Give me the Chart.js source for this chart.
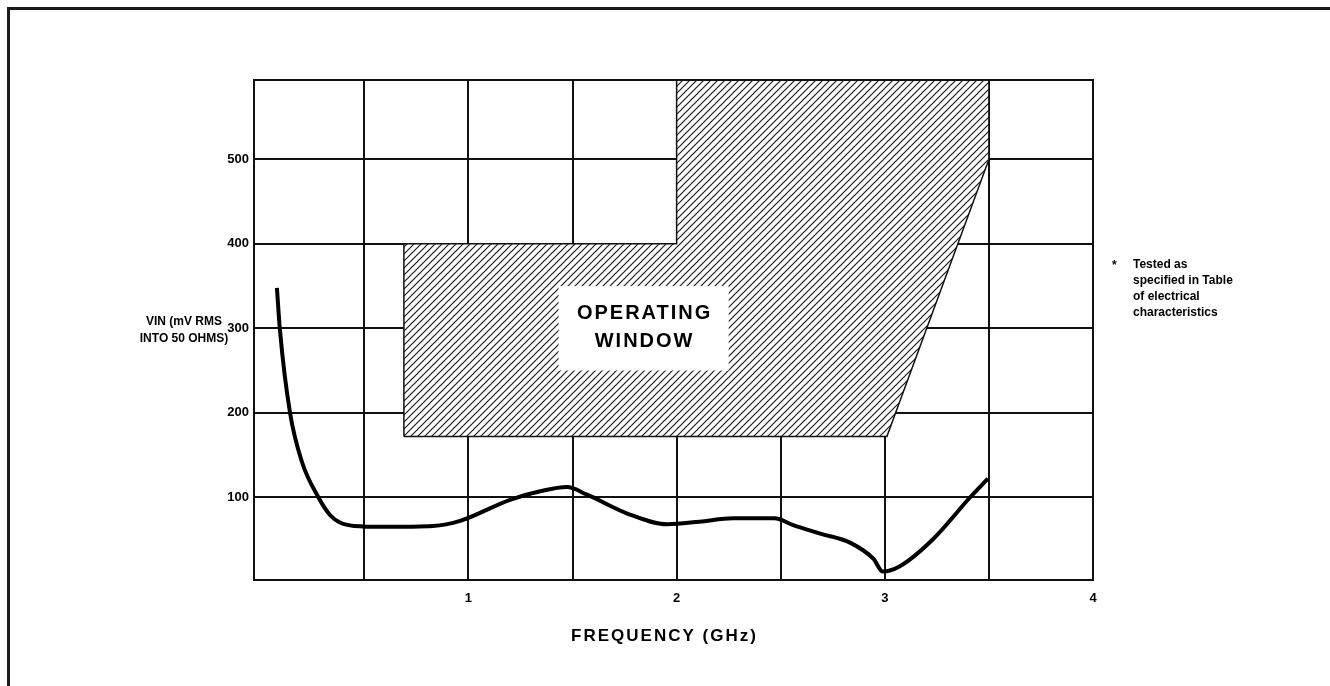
<!DOCTYPE html>
<html>
<head>
<meta charset="utf-8">
<title>VIN vs Frequency</title>
<script src="https://cdn.jsdelivr.net/npm/chart.js@4/dist/chart.umd.min.js"></script>
<style>
  html, body { margin: 0; padding: 0; background: #fff; }
  canvas { display: block; }
</style>
</head>
<body>
<canvas id="chart" width="1330" height="686"></canvas>
<script>
// Measured input sensitivity curve (frequency in GHz, VIN in mV RMS)
const freqGHz = [0.08, 0.095, 0.143, 0.2, 0.279, 0.335, 0.383, 0.45, 0.6, 0.83, 0.96, 1.2, 1.345, 1.473, 1.57, 1.76, 1.954, 2.11, 2.27, 2.47, 2.56, 2.69, 2.835, 2.946, 2.99, 3.07, 3.23, 3.41, 3.495];
const vinMv   = [348, 297, 200, 142, 100, 79, 70, 66, 65, 66, 72, 97, 107, 112, 103, 81, 68, 71, 75, 75, 67, 57, 46, 27, 12, 18, 50, 100, 122];

// Outline of the operating window (closed polygon)
const windowFreq = [0.69, 0.69, 2.0, 2.0, 3.5, 3.5, 3.01, 0.69];
const windowVin  = [172, 400, 400, 594, 594, 500, 172, 172];

// Grid and tick labels
const xGridValues = [0.5, 1, 1.5, 2, 2.5, 3, 3.5];
const xTickLabels = [1, 2, 3, 4];
const yTickLabels = [100, 200, 300, 400, 500];

const yTitleLines = ['VIN (mV RMS', 'INTO 50 OHMS)'];
const xTitle = 'FREQUENCY (GHz)';
const windowLabel = ['OPERATING', 'WINDOW'];
const noteLines = ['Tested as', 'specified in Table', 'of electrical', 'characteristics'];

// Diagonal hatch pattern on white
function makeHatch() {
  const p = 7;
  const c = document.createElement('canvas');
  c.width = p; c.height = p;
  const g = c.getContext('2d');
  g.fillStyle = '#fff';
  g.fillRect(0, 0, p, p);
  g.strokeStyle = '#1a1a1a';
  g.lineWidth = 1.2;
  g.beginPath();
  g.moveTo(-1, p + 1); g.lineTo(p + 1, -1);
  g.moveTo(-1, 1); g.lineTo(1, -1);
  g.moveTo(p - 1, p + 1); g.lineTo(p + 1, p - 1);
  g.stroke();
  return g.createPattern(c, 'repeat');
}

const FONT = "'Liberation Sans', Arial, sans-serif";

const decor = {
  id: 'decor',
  beforeDraw(chart) {
    const { ctx, width, height } = chart;
    ctx.save();
    ctx.fillStyle = '#fff';
    ctx.fillRect(0, 0, width, height);
    ctx.fillStyle = '#1a1a1a';
    ctx.fillRect(7, 7, width - 7, 3);
    ctx.fillRect(7, 7, 3, height - 7);
    ctx.restore();
  },
  afterDatasetsDraw(chart) {
    const { ctx, chartArea: a, scales: { x, y } } = chart;
    ctx.save();
    // plot frame
    ctx.strokeStyle = '#111';
    ctx.lineWidth = 2;
    ctx.strokeRect(a.left, a.top, a.right - a.left, a.bottom - a.top);

    // label panel inside the operating window
    const bx0 = x.getPixelForValue(1.433), bx1 = x.getPixelForValue(2.25);
    const by0 = y.getPixelForValue(350), by1 = y.getPixelForValue(250);
    ctx.fillStyle = '#fff';
    ctx.fillRect(bx0, by0, bx1 - bx0, by1 - by0);
    const cx = (bx0 + bx1) / 2, cy = (by0 + by1) / 2;
    ctx.fillStyle = '#000';
    ctx.font = 'bold 20px ' + FONT;
    ctx.textAlign = 'center';
    ctx.textBaseline = 'middle';
    ctx.letterSpacing = '2px';
    ctx.fillText(windowLabel[0], cx + 1, cy - 15);
    ctx.fillText(windowLabel[1], cx + 1, cy + 13);
    ctx.restore();
  },
  afterDraw(chart) {
    const { ctx, chartArea: a } = chart;
    ctx.save();
    ctx.fillStyle = '#000';
    ctx.textBaseline = 'middle';

    // y-axis title, horizontal, left of the ticks
    ctx.font = 'bold 12px ' + FONT;
    ctx.textAlign = 'center';
    ctx.fillText(yTitleLines[0], a.left - 70, 322);
    ctx.fillText(yTitleLines[1], a.left - 70, 339);

    // x-axis title
    ctx.font = 'bold 17px ' + FONT;
    ctx.letterSpacing = '2px';
    ctx.fillText(xTitle, (a.left + a.right) / 2 - 9, 636);
    ctx.letterSpacing = '0px';

    // footnote
    ctx.font = 'bold 12px ' + FONT;
    ctx.textAlign = 'left';
    ctx.fillText('*', a.right + 19, 266);
    noteLines.forEach((t, i) => ctx.fillText(t, a.right + 40, 265 + i * 16));
    ctx.restore();
  }
};

const gridStyle = { color: '#111', lineWidth: 2, drawTicks: false };

new Chart(document.getElementById('chart'), {
  type: 'line',
  data: {
    datasets: [
      {
        data: windowFreq.map((f, i) => ({ x: f, y: windowVin[i] })),
        borderColor: '#111',
        borderWidth: 1.5,
        backgroundColor: makeHatch(),
        fill: 'shape',
        pointRadius: 0,
        tension: 0,
        order: 2
      },
      {
        data: freqGHz.map((f, i) => ({ x: f, y: vinMv[i] })),
        borderColor: '#000',
        borderWidth: 4,
        fill: false,
        pointRadius: 0,
        cubicInterpolationMode: 'monotone',
        order: 1
      }
    ]
  },
  options: {
    responsive: false,
    animation: false,
    events: [],
    layout: { autoPadding: false, padding: { left: 194, right: 237, top: 80, bottom: 66 } },
    plugins: { legend: { display: false }, tooltip: { enabled: false } },
    scales: {
      x: {
        type: 'linear',
        min: -0.03,
        max: 4,
        grid: gridStyle,
        border: { display: false },
        afterBuildTicks(s) {
          s.ticks = [s.min, ...xGridValues, s.max].map(v => ({ value: v }));
        },
        afterFit(s) { s.height = 40; },
        ticks: {
          autoSkip: false,
          maxRotation: 0,
          padding: 11,
          color: '#000',
          font: { family: FONT, size: 13, weight: 'bold' },
          callback: v => xTickLabels.includes(v) ? String(v) : ''
        }
      },
      y: {
        type: 'linear',
        min: 2,
        max: 594,
        grid: gridStyle,
        border: { display: false },
        afterBuildTicks(s) {
          s.ticks = [s.min, ...yTickLabels, s.max].map(v => ({ value: v }));
        },
        afterFit(s) { s.width = 60; },
        ticks: {
          padding: 5,
          color: '#000',
          font: { family: FONT, size: 13, weight: 'bold' },
          callback: v => yTickLabels.includes(v) ? String(v) : ''
        }
      }
    }
  },
  plugins: [decor]
});
</script>
</body>
</html>
